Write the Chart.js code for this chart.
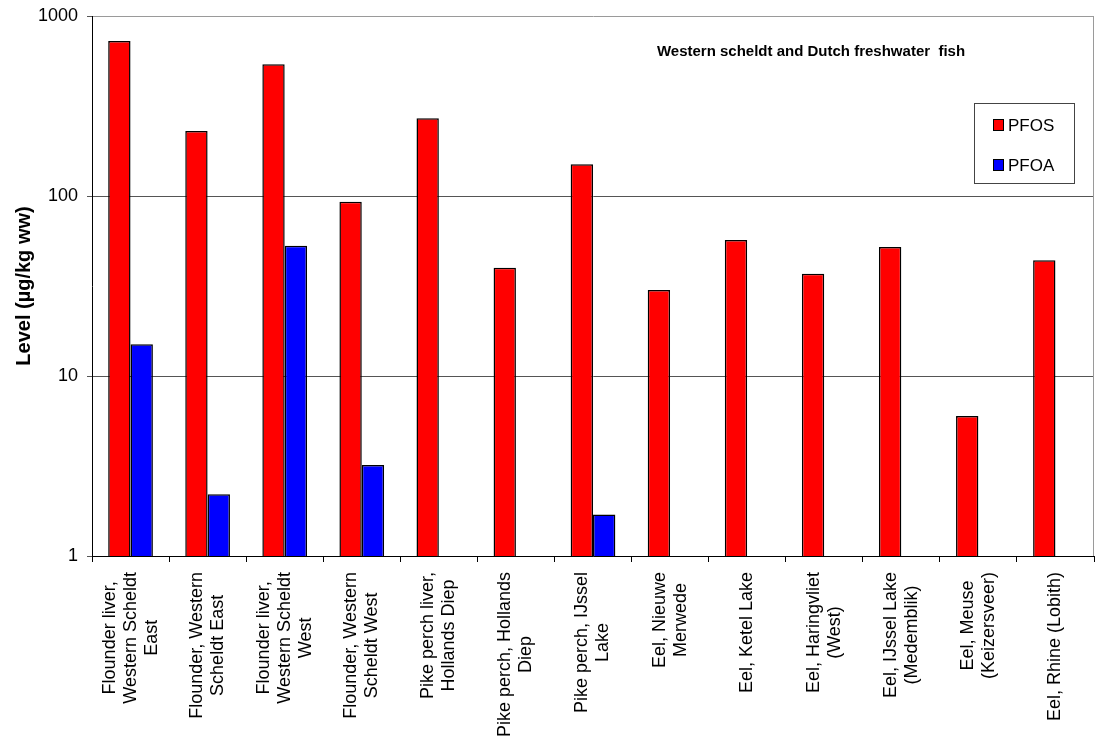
<!DOCTYPE html>
<html>
<head>
<meta charset="utf-8">
<script src="https://cdn.jsdelivr.net/npm/chart.js@4.4.1/dist/chart.umd.min.js"></script>
<style>
  html, body { margin: 0; padding: 0; background: #fff; }
  canvas { display: block; }
</style>
</head>
<body>
<canvas id="chart" width="1101" height="745"></canvas>
<script>
const FONT = '"Liberation Sans", Arial, sans-serif';

// Sampling sites, one array of text lines per category
const sites = [
    ['Flounder liver,', 'Western Scheldt', 'East'],
    ['Flounder, Western', 'Scheldt East'],
    ['Flounder liver,', 'Western Scheldt', 'West'],
    ['Flounder, Western', 'Scheldt West'],
    ['Pike perch liver,', 'Hollands Diep'],
    ['Pike perch, Hollands', 'Diep'],
    ['Pike perch, IJssel', 'Lake'],
    ['Eel, Nieuwe', 'Merwede'],
    ['Eel, Ketel Lake'],
    ['Eel, Haringvliet', '(West)'],
    ['Eel, IJssel Lake', '(Medemblik)'],
    ['Eel, Meuse', '(Keizersveer)'],
    ['Eel, Rhine (Lobith)']
];

// Levels in µg/kg wet weight
const pfos = [726, 230, 540, 93, 270, 40, 150, 30, 57, 37, 52, 6, 44];
const pfoa = [15, 2.2, 53, 3.2, null, null, 1.7, null, null, null, null, null, null];

const yTicks = [1, 10, 100, 1000];
const chartTitle = 'Western scheldt and Dutch freshwater  fish';
const yTitle = 'Level (µg/kg ww)';

// Grey frame on the right, the title inside the plot, boxed legend and
// the rotated multi-line category labels.
const decorPlugin = {
    id: 'decor',
    beforeDatasetsDraw(chart) {
        const { ctx, chartArea: { top, right, bottom } } = chart;
        ctx.save();
        ctx.strokeStyle = '#9a9a9a';
        ctx.lineWidth = 1;
        ctx.beginPath();
        ctx.moveTo(right - 0.5, top);
        ctx.lineTo(right - 0.5, bottom);
        ctx.stroke();
        ctx.restore();
    },
    afterDraw(chart) {
        const { ctx, chartArea, scales: { x } } = chart;

        // Title
        ctx.save();
        ctx.font = `bold 15px ${FONT}`;
        ctx.fillStyle = '#000';
        ctx.textAlign = 'center';
        ctx.textBaseline = 'middle';
        ctx.fillText(chartTitle, 811, 52);
        ctx.restore();

        // Legend box
        const box = { x: 974.5, y: 103.5, w: 100, h: 80 };
        ctx.save();
        ctx.fillStyle = '#fff';
        ctx.fillRect(box.x, box.y, box.w, box.h);
        ctx.strokeStyle = '#444';
        ctx.lineWidth = 1;
        ctx.strokeRect(box.x, box.y, box.w, box.h);
        ctx.font = `17px ${FONT}`;
        ctx.textAlign = 'left';
        ctx.textBaseline = 'middle';
        chart.data.datasets.forEach((ds, i) => {
            const cy = 125 + i * 40;
            ctx.fillStyle = ds.backgroundColor;
            ctx.fillRect(993.5, cy - 5.5, 10, 11);
            ctx.strokeStyle = '#000';
            ctx.strokeRect(993.5, cy - 5.5, 10, 11);
            ctx.fillStyle = '#000';
            ctx.fillText(ds.label, 1008, cy + 1);
        });
        ctx.restore();

        // Category labels, rotated, lines centred on each other
        ctx.save();
        ctx.font = `18px ${FONT}`;
        ctx.fillStyle = '#000';
        ctx.textAlign = 'center';
        ctx.textBaseline = 'middle';
        const lineH = 21;
        chart.data.labels.forEach((lines, i) => {
            const cx = x.getPixelForValue(i);
            const widest = Math.max(...lines.map(l => ctx.measureText(l).width));
            ctx.save();
            ctx.translate(cx, chartArea.bottom + 16 + widest / 2);
            ctx.rotate(-Math.PI / 2);
            lines.forEach((line, j) => {
                ctx.fillText(line, 0, (j - (lines.length - 1) / 2) * lineH);
            });
            ctx.restore();
        });
        ctx.restore();
    }
};

const barStyle = {
    borderColor: '#000',
    borderWidth: 1.5,
    categoryPercentage: 0.58,
    barPercentage: 1
};

new Chart(document.getElementById('chart').getContext('2d'), {
    type: 'bar',
    data: {
        labels: sites,
        datasets: [
            { label: 'PFOS', data: pfos, backgroundColor: '#ff0000', ...barStyle },
            { label: 'PFOA', data: pfoa, backgroundColor: '#0000ff', ...barStyle }
        ]
    },
    options: {
        responsive: false,
        animation: false,
        layout: { padding: { top: 16, right: 7, left: 0, bottom: 0 } },
        plugins: {
            legend: { display: false },
            tooltip: { enabled: false }
        },
        scales: {
            x: {
                ticks: { display: false },
                grid: { offset: true, drawOnChartArea: false, tickLength: 6, color: '#000' },
                border: { color: '#000', width: 1 },
                afterFit: s => { s.height = 189; }
            },
            y: {
                type: 'logarithmic',
                min: 1,
                max: 1000,
                afterBuildTicks: s => { s.ticks = yTicks.map(v => ({ value: v })); },
                afterFit: s => { s.width = 92; },
                ticks: {
                    color: '#000',
                    padding: 9,
                    // tight line height keeps the top label from pushing the plot down
                    font: { family: FONT, size: 18, lineHeight: 0.75 },
                    callback: v => String(v)
                },
                grid: {
                    color: c => (c.tick && c.tick.value === 1000 ? '#9a9a9a' : '#555'),
                    tickColor: '#555',
                    tickLength: 5
                },
                border: { color: '#000', width: 1 },
                title: {
                    display: true,
                    text: yTitle,
                    color: '#000',
                    font: { family: FONT, size: 20, weight: 'bold' },
                    padding: { top: 12, bottom: 0 }
                }
            }
        }
    },
    plugins: [decorPlugin]
});
</script>
</body>
</html>
